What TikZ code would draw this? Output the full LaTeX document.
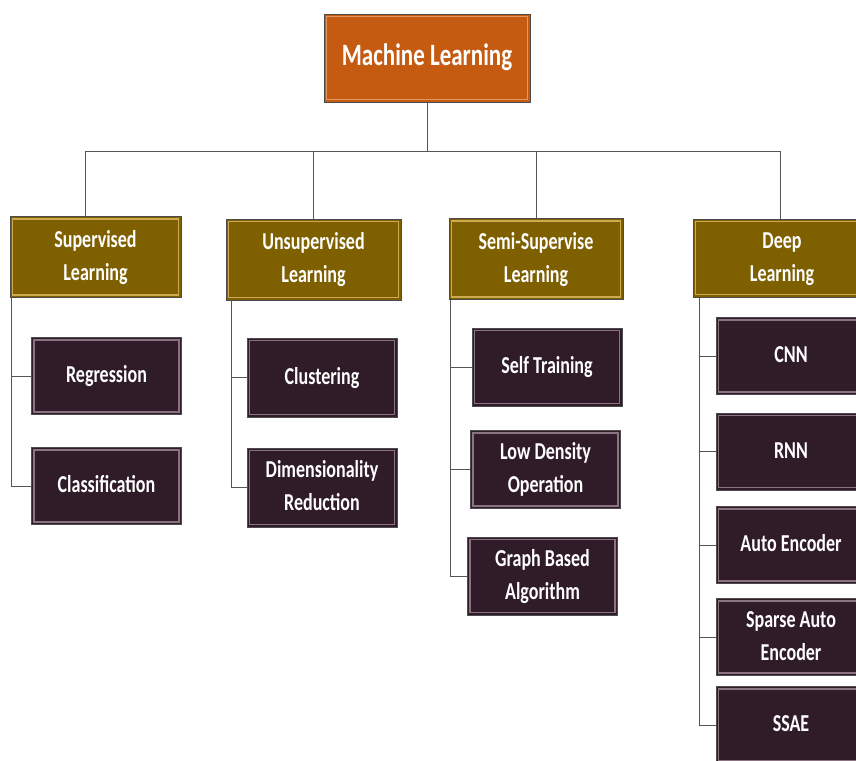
\documentclass[tikz,border=0pt]{standalone}
\usepackage{fontspec}
\setmainfont{Carlito}
\usepackage{graphicx}

\definecolor{mlfill}{RGB}{197,90,17}
\definecolor{mlrim}{RGB}{232,150,95}
\definecolor{catfill}{RGB}{127,96,0}
\definecolor{catrim}{RGB}{205,170,80}
\definecolor{leaffill}{RGB}{48,28,40}
\definecolor{leafrim}{RGB}{140,115,130}
\definecolor{linegray}{RGB}{85,85,85}

\newcommand{\tall}[1]{\scalebox{1}[1.35]{\begin{tabular}{@{}c@{}}#1\end{tabular}}}

\tikzset{
  bevel/.style={draw=black!70, line width=0.9pt, text=white, align=center,
    font=\bfseries\fontsize{18}{24.5}\selectfont, inner sep=0pt,
    path picture={\draw[#1, line width=1.4pt]
      ([shift={(2.5pt,2.5pt)}]path picture bounding box.south west) rectangle
      ([shift={(-2.5pt,-2.5pt)}]path picture bounding box.north east);}},
  mlbox/.style={bevel=mlrim, fill=mlfill, minimum width=206pt, minimum height=88pt,
    font=\bfseries\fontsize{23}{28}\selectfont},
  catbox/.style={bevel=catrim, fill=catfill, minimum width=174pt, minimum height=81pt},
  leafbox/.style={bevel=leafrim, fill=leaffill, minimum width=150pt, minimum height=77pt},
  link/.style={draw=linegray, line width=0.9pt}
}

\begin{document}
\begin{tikzpicture}[x=1pt, y=-1pt]
    \useasboundingbox (0,0) rectangle (856,760);
    \clip (0,0) rectangle (856,760);

    % Root
    \node[mlbox] (ml) at (427,58) {\tall{Machine Learning}};

    % Learning types
    \node[catbox, minimum width=171pt] (sup) at (95.5,257) {\tall{Supervised\\Learning}};
    \node[catbox, minimum width=175pt] (uns) at (313.5,259.5) {\tall{Unsupervised\\Learning}};
    \node[catbox] (semi) at (536,259) {\tall{Semi-Supervise\\Learning}};
    \node[catbox, minimum width=178pt, minimum height=78pt] (deep) at (782,258) {\tall{Deep\\Learning}};

    % Supervised methods
    \node[leafbox] (reg) at (106.5,376) {\tall{Regression}};
    \node[leafbox] (cls) at (106.5,486) {\tall{Classification}};

    % Unsupervised methods
    \node[leafbox, minimum height=79pt] (clu) at (322,377.5) {\tall{Clustering}};
    \node[leafbox, minimum height=79pt] (dim) at (322,487.5) {\tall{Dimensionality\\Reduction}};

    % Semi-supervised methods
    \node[leafbox, minimum height=78pt] (self) at (547,367) {\tall{Self Training}};
    \node[leafbox, minimum height=78pt] (low) at (545.5,469.5) {\tall{Low Density\\Operation}};
    \node[leafbox, minimum height=78pt] (graph) at (542.5,576) {\tall{Graph Based\\Algorithm}};

    % Deep learning models
    \node[leafbox] (cnn) at (791,356) {\tall{CNN}};
    \node[leafbox] (rnn) at (791,451.5) {\tall{RNN}};
    \node[leafbox] (ae) at (791,545) {\tall{Auto Encoder}};
    \node[leafbox] (sae) at (791,637) {\tall{Sparse Auto\\Encoder}};
    \node[leafbox] (ssae) at (791,725) {\tall{SSAE}};

    % Bus from root
    \coordinate (bus) at (427,151);
    \draw[link] (ml.south) -- (bus);
    \draw[link] (bus) -| ([xshift=-10pt]sup.north);
    \draw[link] (bus) -| (uns.north);
    \draw[link] (bus) -| (semi.north);
    \draw[link] (bus) -| ([xshift=-2pt]deep.north);

    % Side rails
    \foreach \cat/\dx/\kids in {sup/2/{reg,cls}, uns/6/{clu,dim},
                                semi/2/{self,low,graph}, deep/7/{cnn,rnn,ae,sae,ssae}} {
        \foreach \kid in \kids {
            \draw[link] ([xshift=\dx pt]\cat.south west) |- (\kid.west);
        }
    }
\end{tikzpicture}
\end{document}
